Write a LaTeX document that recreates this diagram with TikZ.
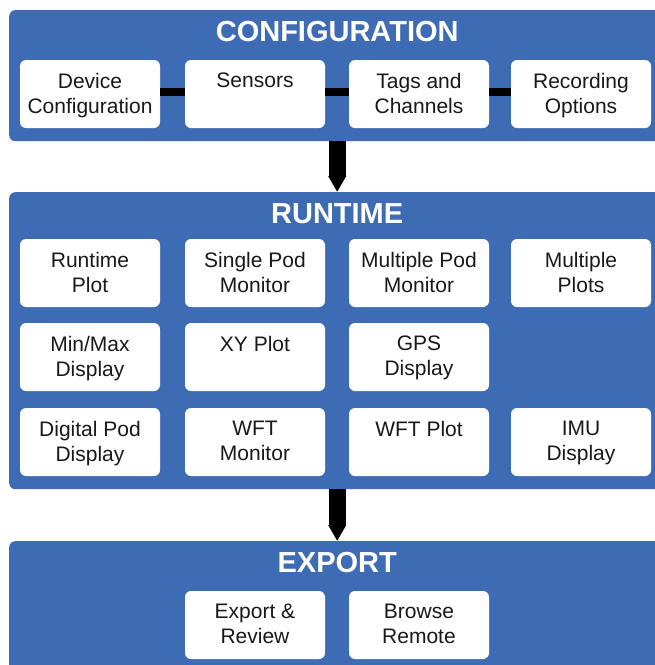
\documentclass[tikz,border=0pt]{standalone}
\usepackage{fontspec}
\setmainfont{Liberation Sans}
\usetikzlibrary{arrows.meta, positioning}

\definecolor{panelblue}{RGB}{62,108,180}
\definecolor{boxtext}{RGB}{25,25,25}

\begin{document}
\begin{tikzpicture}[
    x=1pt, y=-1pt,
    panel/.style={rectangle, fill=panelblue, rounded corners=6pt, minimum width=656pt, anchor=north west, inner sep=0pt},
    panel_title/.style={anchor=north, text=white, font=\fontsize{29}{32}\selectfont\bfseries, inner sep=0pt, yshift=-11pt},
    tool_box/.style={rectangle, fill=white, rounded corners=6pt, minimum width=140pt, minimum height=68pt, inner sep=0pt,
        label={[anchor=north, yshift=-13pt, align=center, inner sep=0pt, text=boxtext, font=\fontsize{21}{25}\selectfont]north:#1}},
    link/.style={line width=8pt, black},
    flow/.style={line width=17pt, black, -{Triangle[length=16pt, width=17pt]}}
]
    \useasboundingbox (0,0) rectangle (655,665);
    \clip (0,0) rectangle (655,665);

    % Panels
    \node[panel, minimum height=131pt] (config) at (9,10) {};
    \node[panel, minimum height=297pt] (runtime) at (9,192) {};
    \node[panel, minimum height=150pt] (export) at (9,541) {};

    \node[panel_title] (config_title) at (config.north) {CONFIGURATION};
    \node[panel_title] (runtime_title) at (runtime.north) {RUNTIME};
    \node[panel_title] (export_title) at (export.north) {EXPORT};

    % Flow between panels
    \draw[flow] (config) -- (runtime);
    \draw[flow] (runtime) -- (export);

    % Configuration
    \node[tool_box={Device\\Configuration}] (dev_cfg) at (90,94) {};
    \node[tool_box={Sensors}] (sensors) at (255,94) {};
    \node[tool_box={Tags and\\Channels}] (tags) at (419,94) {};
    \node[tool_box={Recording\\Options}] (rec_opts) at (581,94) {};

    \draw[link] ([yshift=2pt]dev_cfg.east) -- ([yshift=2pt]sensors.west);
    \draw[link] ([yshift=2pt]sensors.east) -- ([yshift=2pt]tags.west);
    \draw[link] ([yshift=2pt]tags.east) -- ([yshift=2pt]rec_opts.west);

    % Runtime
    \node[tool_box={Runtime\\Plot}] (rt_plot) at (90,273) {};
    \node[tool_box={Single Pod\\Monitor}] (single_pod) at (255,273) {};
    \node[tool_box={Multiple Pod\\Monitor}] (multi_pod) at (419,273) {};
    \node[tool_box={Multiple\\Plots}] (multi_plots) at (581,273) {};

    \node[tool_box={Min/Max\\Display}] (minmax) at (90,357) {};
    \node[tool_box={XY Plot}] (xy_plot) at (255,357) {};
    \node[tool_box={GPS\\Display}] (gps) at (419,357) {};

    \node[tool_box={Digital Pod\\Display}] (dig_pod) at (90,442) {};
    \node[tool_box={WFT\\Monitor}] (wft_mon) at (255,442) {};
    \node[tool_box={WFT Plot}] (wft_plot) at (419,442) {};
    \node[tool_box={IMU\\Display}] (imu) at (581,442) {};

    % Export
    \node[tool_box={Export \&\\Review}] (exp_review) at (255,625) {};
    \node[tool_box={Browse\\Remote}] (browse) at (419,625) {};

\end{tikzpicture}
\end{document}
